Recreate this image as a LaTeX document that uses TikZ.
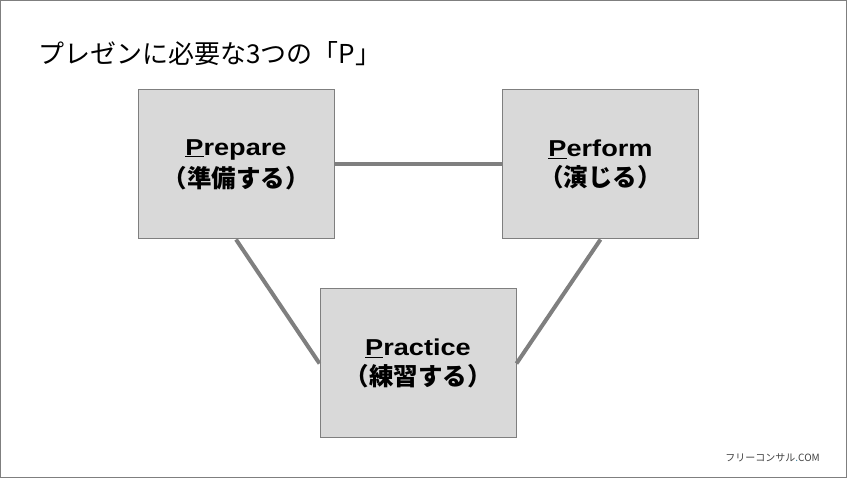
\documentclass[tikz,border=0pt]{standalone}
\usepackage{fontspec}
\setmainfont{Liberation Sans}
\newfontfamily\jp{Noto Sans CJK JP}
\newfontfamily\latb[FakeStretch=1.18]{Liberation Sans Bold}
\definecolor{boxfill}{HTML}{D9D9D9}
\definecolor{boxline}{HTML}{7F7F7F}
\definecolor{conn}{HTML}{7F7F7F}
\newcommand{\pword}[2]{{\latb\fontsize{23}{28}\selectfont\underline{#1}#2}}
\newcommand{\jword}[1]{{\jp\bfseries\fontsize{24.5}{28}\selectfont #1}}
\begin{document}
\begin{tikzpicture}[x=1pt,y=-1pt,
  pbox/.style={draw=boxline,line width=1pt,fill=boxfill,minimum width=196pt,minimum height=149pt,inner sep=0pt,align=center},
  link/.style={draw=conn,line width=4pt}]
\useasboundingbox (0,0) rectangle (847,478);
\draw[draw=boxline,line width=1.2pt] (0.6,0.6) rectangle (846.4,477.4);
\node[anchor=west,inner sep=0pt] (title) at (38,54) {\jp\fontsize{26}{30}\selectfont プレゼンに必要な3つの「P」};
\node[pbox] (prep) at (236,164.5) {\pword{P}{repare}\\[5pt]\jword{（準備する）}};
\node[pbox] (perf) at (600.5,164.5) {\pword{P}{erform}\\[5pt]\jword{（演じる）}};
\node[pbox] (prac) at (418,363.5) {\pword{P}{ractice}\\[5pt]\jword{（練習する）}};
\draw[link] (prep.east) -- (perf.west);
\draw[link] (prep.south) -- (prac.west);
\draw[link] (perf.south) -- (prac.east);
\node[anchor=east,inner sep=0pt,text=black!75] (logo) at (820,458) {\jp\fontsize{10}{12}\selectfont フリーコンサル{\color{cyan!60!black}.}COM};
\end{tikzpicture}
\end{document}
